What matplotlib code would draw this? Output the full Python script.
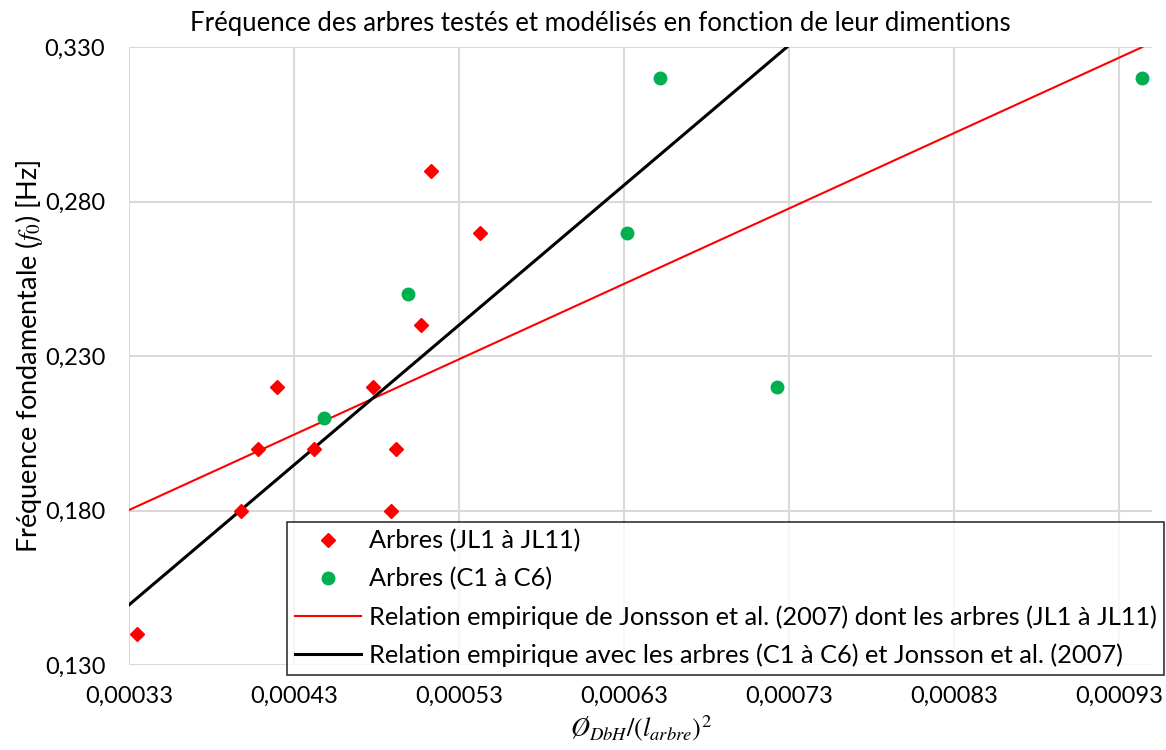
import numpy as np
import matplotlib
matplotlib.use("Agg")
import matplotlib.pyplot as plt
from matplotlib.ticker import FuncFormatter

plt.rcParams['font.family'] = ['Lato', 'DejaVu Sans']
plt.rcParams['mathtext.fontset'] = 'stix'

# Arbres JL1 a JL11 (Jonsson et al.)
x_jl = [0.000513, 0.000543, 0.000507, 0.000420, 0.000478, 0.000408,
        0.000442, 0.000492, 0.000398, 0.000489, 0.000335]
y_jl = [0.290, 0.270, 0.240, 0.220, 0.220, 0.200,
        0.200, 0.200, 0.180, 0.180, 0.140]

# Arbres C1 a C6
x_c = [0.000448, 0.000499, 0.000652, 0.000632, 0.000723, 0.000944]
y_c = [0.210, 0.250, 0.320, 0.270, 0.220, 0.320]

# Relations empiriques (extremites des droites)
x_rel_jl = [0.00033, 0.000944]
y_rel_jl = [0.1802, 0.330]
x_rel_all = [0.00033, 0.000944]
y_rel_all = [0.1495, 0.4275]

xticks = [0.00033, 0.00043, 0.00053, 0.00063, 0.00073, 0.00083, 0.00093]
yticks = [0.130, 0.180, 0.230, 0.280, 0.330]

fig = plt.figure(figsize=(11.66, 7.5), dpi=100)
ax = fig.add_axes([0.1106, 0.1131, 0.8774, 0.8240])

ax.plot(x_jl, y_jl, linestyle='none', marker='D', ms=7, color='#ff0000',
        label='Arbres (JL1 à JL11)', zorder=4)
ax.plot(x_c, y_c, linestyle='none', marker='o', ms=9, color='#00b050',
        label='Arbres (C1 à C6)', zorder=4)
ax.plot(x_rel_jl, y_rel_jl, color='#ff0000', lw=1.5,
        label='Relation empirique de Jonsson et al. (2007) dont les arbres (JL1 à JL11)', zorder=3)
ax.plot(x_rel_all, y_rel_all, color='black', lw=2.2,
        label='Relation empirique avec les arbres (C1 à C6) et Jonsson et al. (2007)', zorder=3)

ax.set_xlim(0.00033, 0.00095)
ax.set_ylim(0.130, 0.330)
ax.set_xticks(xticks)
ax.set_yticks(yticks)
ax.xaxis.set_major_formatter(FuncFormatter(lambda v, p: f"{v:.5f}".replace('.', ',')))
ax.yaxis.set_major_formatter(FuncFormatter(lambda v, p: f"{v:.3f}".replace('.', ',')))
ax.tick_params(axis='y', length=0, labelsize=17, colors='black', pad=17)
ax.tick_params(axis='x', length=0, labelsize=17, colors='black', pad=15)
ax.grid(True, color='#d9d9d9', lw=1.5)
ax.set_axisbelow(True)
for s in ax.spines.values():
    s.set_visible(False)

fig.text(0.515, 0.968, 'Fréquence des arbres testés et modélisés en fonction de leur dimentions',
         fontsize=18.5, ha='center', va='center')
ax.set_ylabel(r'Fréquence fondamentale ($f_0$) [Hz]', fontsize=19.5, labelpad=0)
ax.set_xlabel(r'$\O_{DbH}/(l_{arbre})^2$', fontsize=19, labelpad=4)

leg = fig.legend(loc='lower right', bbox_to_anchor=(0.9983, 0.10), fontsize=18.3,
                 frameon=True, fancybox=False, borderaxespad=0, handlelength=2.6,
                 handletextpad=0.3, labelspacing=0.58, borderpad=0.3)
leg.get_frame().set_edgecolor('black')
leg.get_frame().set_linewidth(1.2)
leg.set_zorder(10)

fig.savefig('out.png', dpi=100)
